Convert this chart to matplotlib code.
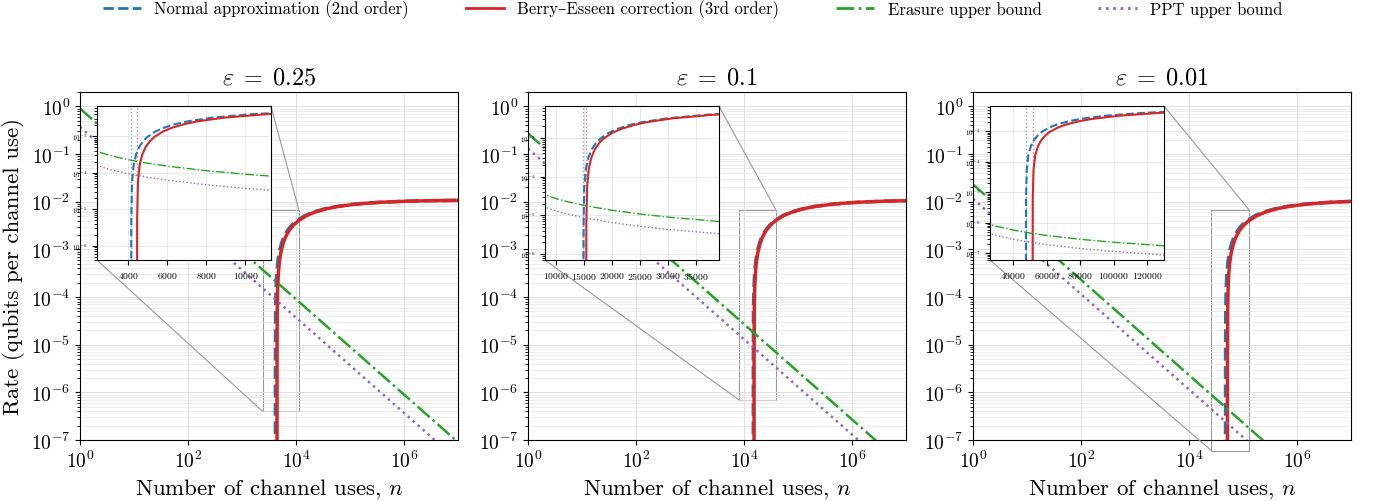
import matplotlib
matplotlib.use('Agg')
import matplotlib.pyplot as plt
from matplotlib.lines import Line2D
from mpl_toolkits.axes_grid1.inset_locator import mark_inset

plt.rcParams['font.family'] = ['cmr10', 'DejaVu Serif']
plt.rcParams['mathtext.fontset'] = 'cm'
plt.rcParams['axes.formatter.use_mathtext'] = True
plt.rcParams['axes.unicode_minus'] = True

# ---- data ----
eps_labels = ['0.25', '0.1', '0.01']

# eps = 0.25
n_normal_a = [4150.04, 4154.15, 4191.5, 4274.5, 4399, 4565, 4772.5, 4980, 5395, 5810, 6432.5, 7055,
              8300, 10375, 14525, 20750, 33200, 53950, 107900, 211650, 419150, 1041650, 2494150, 1e7]
n_be_a = [4450.04, 4454.45, 4494.5, 4583.5, 4717, 4895, 5117.5, 5340, 5785, 6230, 6897.5, 7565,
          8900, 11125, 15575, 22250, 35600, 57850, 115700, 226950, 449450, 1116950, 2674450, 1e7]
rate_a = [5.45e-8, 5.45e-6, 5.41e-5, 1.60e-4, 3.13e-4, 5.07e-4, 7.36e-4, 9.50e-4, 1.340e-3, 1.688e-3,
          2.145e-3, 2.540e-3, 3.193e-3, 4.006e-3, 5.074e-3, 6.025e-3, 7.046e-3, 7.877e-3, 8.762e-3,
          9.374e-3, 9.815e-3, 1.0212e-2, 1.0455e-2]
rate_normal_a = rate_a + [1.0678e-2]
rate_be_a = rate_a + [1.0670e-2]

# eps = 0.1
n_normal_b = [14850.15, 14864.85, 14998.5, 15295.5, 15741, 16335, 17077.5, 17820, 19305, 20790, 23017.5,
              25245, 29700, 37125, 51975, 74250, 118800, 193050, 386100, 757350, 1499850, 3727350, 8924850, 1e7]
n_be_b = [15350.15, 15365.35, 15503.5, 15810.5, 16271, 16885, 17652.5, 18420, 19955, 21490, 23792.5,
          26095, 30700, 38375, 53725, 76750, 122800, 199550, 399100, 782850, 1550350, 3852850, 9225350, 1e7]
rate_normal_b = rate_a + [1.0480e-2]
rate_be_b = rate_a + [1.0473e-2]

# eps = 0.01
n_normal_c = [47500.5, 47547.5, 47975, 48925, 50350, 52250, 54625, 57000, 61750, 66500, 73625, 80750,
              95000, 118750, 166250, 237500, 380000, 617500, 1235000, 2422500, 4797500, 1e7]
n_be_c = [51500.5, 51551.5, 52015, 53045, 54590, 56650, 59225, 61800, 66950, 72100, 79825, 87550,
          103000, 128750, 180250, 257500, 412000, 669500, 1339000, 2626500, 5201500, 1e7]
rate_normal_c = rate_a[:21] + [1.0149e-2]
rate_be_c = rate_a[:21] + [1.0118e-2]

# 1/n upper bounds
n_bound = [1, 10, 100, 1e3, 2000, 3000, 4000, 5000, 6000, 8000, 10000, 12000, 15000, 20000,
           25000, 30000, 40000, 50000, 60000, 80000, 1e5, 1.3e5, 1e6, 1e7]
erasure_a = [0.9, 0.09, 9e-3, 9e-4, 4.5e-4, 3.0e-4, 2.25e-4, 1.8e-4, 1.5e-4, 1.125e-4, 9e-5, 7.5e-5,
             6e-5, 4.5e-5, 3.6e-5, 3e-5, 2.25e-5, 1.8e-5, 1.5e-5, 1.125e-5, 9e-6, 6.92e-6, 9e-7, 9e-8]
ppt_a = [0.37, 0.037, 3.7e-3, 3.7e-4, 1.85e-4, 1.233e-4, 9.25e-5, 7.4e-5, 6.17e-5, 4.625e-5, 3.7e-5,
         3.083e-5, 2.467e-5, 1.85e-5, 1.48e-5, 1.233e-5, 9.25e-6, 7.4e-6, 6.17e-6, 4.625e-6, 3.7e-6,
         2.846e-6, 3.7e-7, 3.7e-8]
erasure_b = [0.27, 0.027, 2.7e-3, 2.7e-4, 1.35e-4, 9e-5, 6.75e-5, 5.4e-5, 4.5e-5, 3.375e-5, 2.7e-5,
             2.25e-5, 1.8e-5, 1.35e-5, 1.08e-5, 9e-6, 6.75e-6, 5.4e-6, 4.5e-6, 3.375e-6, 2.7e-6,
             2.077e-6, 2.7e-7, 2.7e-8]
ppt_b = [0.13, 0.013, 1.3e-3, 1.3e-4, 6.5e-5, 4.333e-5, 3.25e-5, 2.6e-5, 2.167e-5, 1.625e-5, 1.3e-5,
         1.083e-5, 8.667e-6, 6.5e-6, 5.2e-6, 4.333e-6, 3.25e-6, 2.6e-6, 2.167e-6, 1.625e-6, 1.3e-6,
         1.0e-6, 1.3e-7, 1.3e-8]
erasure_c = [0.023, 2.3e-3, 2.3e-4, 2.3e-5, 1.15e-5, 7.667e-6, 5.75e-6, 4.6e-6, 3.833e-6, 2.875e-6,
             2.3e-6, 1.917e-6, 1.533e-6, 1.15e-6, 9.2e-7, 7.667e-7, 5.75e-7, 4.6e-7, 3.833e-7,
             2.875e-7, 2.3e-7, 1.769e-7, 2.3e-8, 2.3e-9]
ppt_c = [0.0115, 1.15e-3, 1.15e-4, 1.15e-5, 5.75e-6, 3.833e-6, 2.875e-6, 2.3e-6, 1.917e-6, 1.4375e-6,
         1.15e-6, 9.583e-7, 7.667e-7, 5.75e-7, 4.6e-7, 3.833e-7, 2.875e-7, 2.3e-7, 1.917e-7,
         1.4375e-7, 1.15e-7, 8.846e-8, 1.15e-8, 1.15e-9]

# inset windows and ticks
inset_x = [(2400, 11300), (8000, 39000), (26000, 130000)]
inset_y = [(4e-7, 6.7e-3), (7e-7, 6.7e-3), (6e-8, 6.7e-3)]
inset_xticks = [[4000, 6000, 8000, 10000],
                [10000, 15000, 20000, 25000, 30000, 35000],
                [40000, 60000, 80000, 100000, 120000]]

c_norm = '#1f77b4'
c_be = '#d62728'
c_er = '#2ca02c'
c_ppt = '#9467bd'

panels = [
    (n_normal_a, rate_normal_a, n_be_a, rate_be_a, erasure_a, ppt_a),
    (n_normal_b, rate_normal_b, n_be_b, rate_be_b, erasure_b, ppt_b),
    (n_normal_c, rate_normal_c, n_be_c, rate_be_c, erasure_c, ppt_c),
]

fig = plt.figure(figsize=(13.77, 5.02), dpi=100)
lefts = [80, 528, 973]

for i, (nn, rn, nb, rb, er, pp) in enumerate(panels):
    ax = fig.add_axes([lefts[i] / 1377, 1 - 441 / 502, 378 / 1377, 348 / 502])
    ax.plot(nn, rn, ls='--', color=c_norm, lw=2.5)
    ax.plot(nb, rb, ls='-', color=c_be, lw=2.5)
    ax.plot(n_bound, er, ls='-.', color=c_er, lw=1.8)
    ax.plot(n_bound, pp, ls=':', color=c_ppt, lw=1.8)
    ax.set_xscale('log')
    ax.set_yscale('log')
    ax.set_xlim(1, 1e7)
    ax.set_ylim(1e-7, 2)
    ax.set_xticks([1, 1e2, 1e4, 1e6])
    ax.grid(True, which='major', color='0.85', lw=0.6)
    ax.grid(True, which='minor', axis='y', color='0.9', lw=0.5)
    ax.tick_params(labelsize=14)
    ax.set_title(r'$\varepsilon \;=\; %s$' % eps_labels[i], fontsize=17.5)
    ax.set_xlabel(r'Number of channel uses, $n$', fontsize=16.5)
    if i == 0:
        ax.set_ylabel('Rate (qubits per channel use)', fontsize=16.5)

    axins = ax.inset_axes([0.045, 0.517, 0.46, 0.443])
    axins.plot(nn, rn, ls='--', color=c_norm, lw=1.5)
    axins.plot(nb, rb, ls='-', color=c_be, lw=1.5)
    axins.plot(n_bound, er, ls='-.', color=c_er, lw=1.0)
    axins.plot(n_bound, pp, ls=':', color=c_ppt, lw=1.0)
    axins.axvline(nn[0], color=c_norm, ls=':', lw=1.0, alpha=0.6)
    axins.axvline(nb[0], color=c_be, ls=':', lw=1.0, alpha=0.6)
    axins.set_yscale('log')
    axins.set_xlim(*inset_x[i])
    axins.set_ylim(*inset_y[i])
    axins.set_xticks(inset_xticks[i])
    axins.grid(True, which='major', color='0.88', lw=0.5)
    axins.tick_params(axis='x', labelsize=7)
    axins.tick_params(axis='y', labelsize=5)
    axins.set_facecolor('white')
    rect, p1, p2 = mark_inset(ax, axins, loc1=1, loc2=3, fc='none', ec='0.6', lw=0.8)
    rect.set_clip_on(False)

handles = [Line2D([], [], color=c_norm, ls='--', lw=2),
           Line2D([], [], color=c_be, ls='-', lw=2),
           Line2D([], [], color=c_er, ls='-.', lw=2),
           Line2D([], [], color=c_ppt, ls=':', lw=2)]
labels = ['Normal approximation (2nd order)', 'Berry–Esseen correction (3rd order)',
          'Erasure upper bound', 'PPT upper bound']
fig.legend(handles, labels, loc='center', ncol=4, frameon=False, fontsize=12,
           bbox_to_anchor=(0.503, 0.98), columnspacing=3.4, handlelength=2.3, handletextpad=0.8)

fig.savefig('out.png', dpi=100)
